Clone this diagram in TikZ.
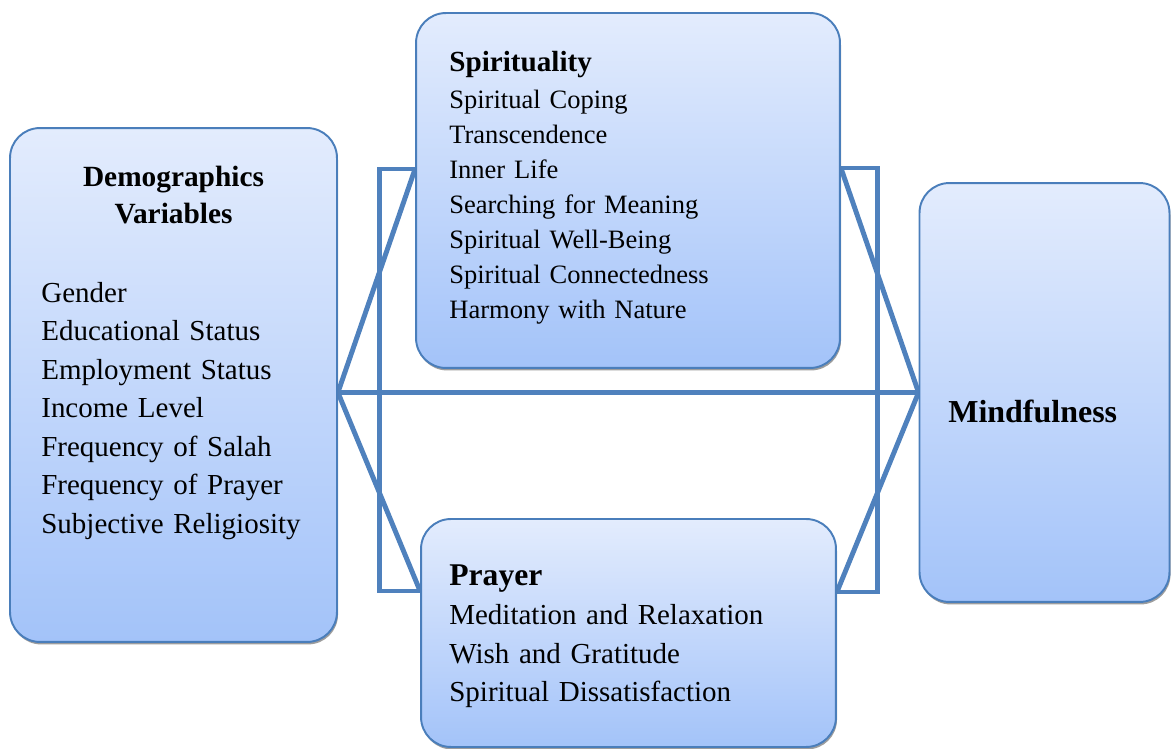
\documentclass[tikz,border=0pt]{standalone}
\usepackage{fontspec}
\setmainfont{Liberation Serif}
\usetikzlibrary{shadows, backgrounds, calc}
\definecolor{edge}{HTML}{4A7EBB}
\definecolor{link}{HTML}{4F81BD}
\definecolor{topfill}{HTML}{E3ECFD}
\definecolor{botfill}{HTML}{A3C3F9}

\begin{document}
\begin{tikzpicture}[
        x=0.02cm, y=-0.02cm,
        box/.style={rectangle, rounded corners=17pt, draw=edge, line width=1.1pt,
                    top color=topfill, bottom color=botfill, inner sep=0pt,
                    drop shadow={shadow xshift=0.6pt, shadow yshift=-1.4pt,
                                 fill=black!55, opacity=0.7}},
        ln/.style={link, line width=2.8pt},
        txt/.style={anchor=base west, align=left, inner sep=0pt, text width=7.5cm},
      ]
      \useasboundingbox (0,0) rectangle (1171,749);

      % Boxes
      \node[box, minimum width=6.54cm, minimum height=10.28cm] (dem) at (173.5,385) {};
      \node[box, minimum width=8.48cm, minimum height=7.1cm] (spi) at (628,190.5) {};
      \node[box, minimum width=8.3cm, minimum height=4.56cm] (pra) at (628.5,633) {};
      \node[box, minimum width=5.0cm, minimum height=8.38cm] (mind) at (1044.5,392.5) {};

      % Texts
      \node[txt, anchor=base, align=center, text width=6cm,
            font=\bfseries\fontsize{16.7}{21}\selectfont] (demhead) at (173.5,187)
            {Demographics\\Variables};
      \node[txt, font=\fontsize{16.5}{21.9}\selectfont] (demlist) at (41,302.5)
            {Gender\\Educational Status\\Employment Status\\Income Level\\
             Frequency of Salah\\Frequency of Prayer\\Subjective Religiosity};
      \node[txt, font=\bfseries\fontsize{16.6}{20}\selectfont] (spihead) at (449,72) {Spirituality};
      \node[txt, font=\fontsize{15.1}{19.9}\selectfont] (spilist) at (449,109)
            {Spiritual Coping\\Transcendence\\Inner Life\\Searching for Meaning\\
             Spiritual Well-Being\\Spiritual Connectedness\\Harmony with Nature};
      \node[txt, font=\bfseries\fontsize{18}{21}\selectfont] (prahead) at (449,586) {Prayer};
      \node[txt, font=\fontsize{16.5}{21.9}\selectfont] (pralist) at (449,625)
            {Meditation and Relaxation\\Wish and Gratitude\\Spiritual Dissatisfaction};
      \node[txt, font=\bfseries\fontsize{18.2}{22}\selectfont] (mindhead) at (948,423) {Mindfulness};

      % Connectors
      \coordinate (hubL) at (dem.east |- mind.west);
      \coordinate (spiL) at (spi.west |- 0,169);
      \coordinate (spiR) at (spi.east |- 0,168);
      \coordinate (praL) at (pra.west |- 0,591);
      \coordinate (praR) at (pra.east |- 0,592);
      \begin{scope}[on background layer]
        \draw[ln] (spiL) -- ++(-36,0) |- (praL);
        \draw[ln] (spiR) -- ++(37,0) |- (praR);
        \draw[ln] (hubL) -- (mind.west);
        \draw[ln] (hubL) -- (spiL);
        \draw[ln] (hubL) -- (praL);
        \draw[ln] (mind.west) -- (spiR);
        \draw[ln] (mind.west) -- (praR);
      \end{scope}
\end{tikzpicture}
\end{document}
